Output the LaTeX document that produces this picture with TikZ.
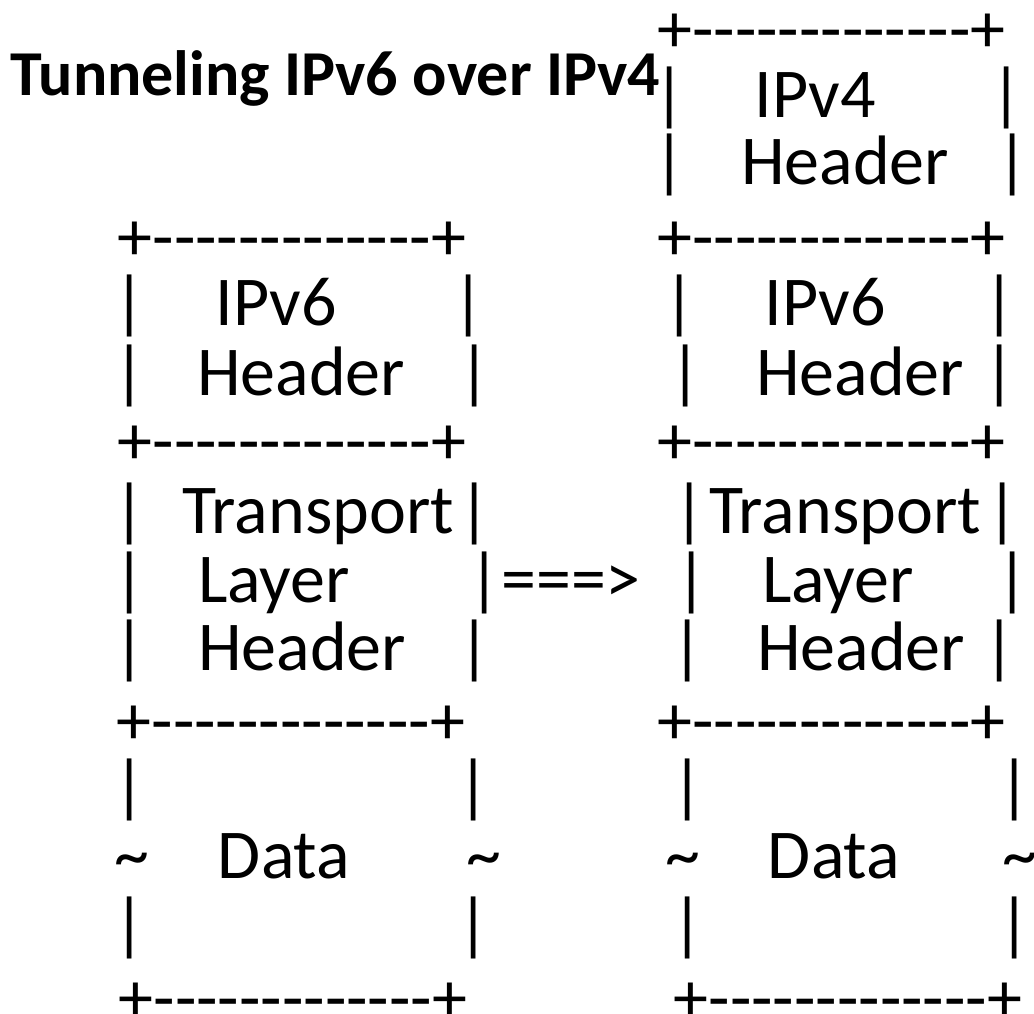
\documentclass[tikz,border=0pt]{standalone}
\usepackage{fontspec}
\setmainfont{Carlito}[Ligatures=TeXOff]
\newcommand{\bodyfont}{\fontsize{52.5pt}{60pt}\selectfont}
\newcommand{\titlefont}{\fontsize{48pt}{56pt}\selectfont\bfseries}
\newcommand{\dashrow}{+-------------+}
\begin{document}
\begin{tikzpicture}[x=0.75pt,y=-0.75pt,
  txt/.style={anchor=base,inner sep=0pt,font=\bodyfont},
  ttl/.style={anchor=base west,inner sep=0pt,font=\titlefont}]
\useasboundingbox (0,0) rectangle (1034,1013);
% title
\node[ttl] (title) at (10,96) {Tunneling IPv6 over IPv4};
% right column top
\node[txt] (r0) at (831.5,53) {\dashrow};
\node[txt] (rb1) at (670,118) {|};
\node[txt] (r4) at (815,118) {IPv4};
\node[txt] (rb2) at (1007,118) {|};
\node[txt] (rb3) at (670,185) {|};
\node[txt] (r4h) at (845,185) {Header};
\node[txt] (rb4) at (1013,185) {|};
% row separators
\node[txt] (l1) at (292,260) {\dashrow};
\node[txt] (r1) at (831.5,260) {\dashrow};
% IPv6 rows
\node[txt] (lb1) at (130,325) {|};
\node[txt] (l6) at (276,325) {IPv6};
\node[txt] (lb2) at (469,325) {|};
\node[txt] (rb5) at (680,325) {|};
\node[txt] (r6) at (825,325) {IPv6};
\node[txt] (rb6) at (1000,325) {|};
\node[txt] (lb3) at (130,395) {|};
\node[txt] (l6h) at (301,395) {Header};
\node[txt] (lb4) at (475,395) {|};
\node[txt] (rb7) at (686,395) {|};
\node[txt] (r6h) at (860,395) {Header};
\node[txt] (rb8) at (1000,395) {|};
\node[txt] (l2) at (292,464) {\dashrow};
\node[txt] (r2) at (831.5,464) {\dashrow};
% transport rows
\node[txt] (lb5) at (130,533) {|};
\node[txt] (lt) at (318,533) {Transport};
\node[txt] (lb6) at (475,533) {|};
\node[txt] (rb9) at (690,533) {|};
\node[txt] (rt) at (845,533) {Transport};
\node[txt] (rb10) at (1003,533) {|};
\node[txt] (lb7) at (130,602) {|};
\node[txt] (ll) at (274,602) {Layer};
\node[txt] (lb8) at (485,602) {|};
\node[txt] (arrow) at (571,602) {===>};
\node[txt] (rb11) at (692,602) {|};
\node[txt] (rl) at (838,602) {Layer};
\node[txt] (rb12) at (1013,602) {|};
\node[txt] (lb9) at (130,670) {|};
\node[txt] (lh) at (302,670) {Header};
\node[txt] (lb10) at (475,670) {|};
\node[txt] (rb13) at (688,670) {|};
\node[txt] (rh) at (861,670) {Header};
\node[txt] (rb14) at (1000,670) {|};
\node[txt] (l3) at (291,744) {\dashrow};
\node[txt] (r3) at (831.5,744) {\dashrow};
% data rows
\node[txt] (lb11) at (130,809) {|};
\node[txt] (lb12) at (474,809) {|};
\node[txt] (rb15) at (688,809) {|};
\node[txt] (rb16) at (1015,809) {|};
\node[txt] (lt1) at (132,878) {\textasciitilde};
\node[txt] (ld) at (284,878) {Data};
\node[txt] (lt2) at (484,878) {\textasciitilde};
\node[txt] (rt1) at (683,878) {\textasciitilde};
\node[txt] (rd) at (834,878) {Data};
\node[txt] (rt2) at (1020,878) {\textasciitilde};
\node[txt] (lb13) at (130,947) {|};
\node[txt] (lb14) at (474,947) {|};
\node[txt] (rb17) at (688,947) {|};
\node[txt] (rb18) at (1015,947) {|};
\node[txt] (l4) at (293,1021) {\dashrow};
\node[txt] (r4b) at (848,1021) {\dashrow};
\end{tikzpicture}
\end{document}
